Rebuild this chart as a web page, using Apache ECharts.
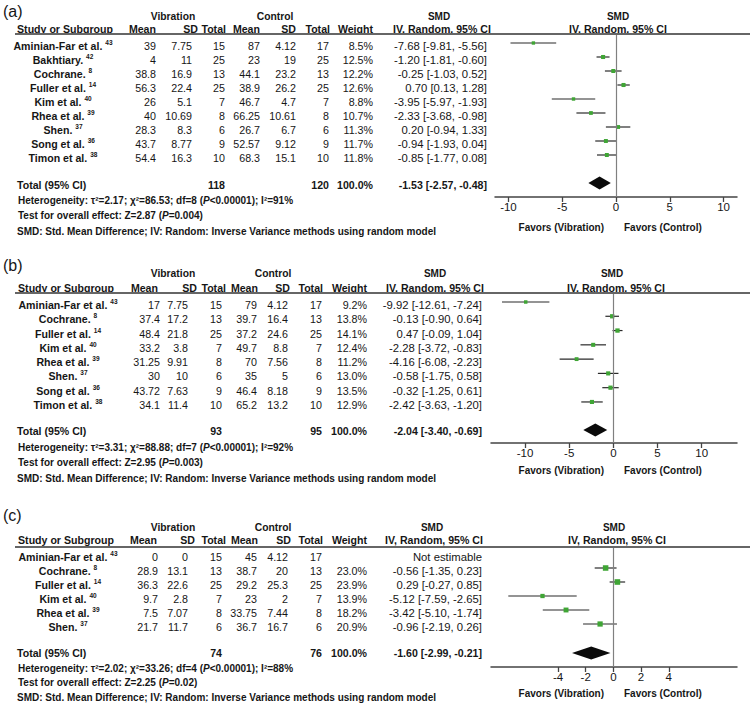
<!DOCTYPE html>
<html><head><meta charset="utf-8">
<script src="https://cdn.jsdelivr.net/npm/echarts@6/dist/echarts.min.js"></script>
<style>html,body{margin:0;padding:0;background:#fff}#chart{width:750px;height:707px}</style>
</head><body><div id="chart"></div>
<script>
// ---------------- DATA ----------------
// Panel (a)
const studiesA = ['Aminian-Far et al.', 'Bakhtiary.', 'Cochrane.', 'Fuller et al.', 'Kim et al.', 'Rhea et al.', 'Shen.', 'Song et al.', 'Timon et al.'];
const refsA = ['43', '42', '8', '14', '40', '39', '37', '36', '38'];
const vibMeanA = ['39', '4', '38.8', '56.3', '26', '40', '28.3', '43.7', '54.4'];
const vibSDA = ['7.75', '11', '16.9', '22.4', '5.1', '10.69', '8.3', '8.77', '16.3'];
const vibNA = [15, 25, 13, 25, 7, 8, 6, 9, 10];
const conMeanA = ['87', '23', '44.1', '38.9', '46.7', '66.25', '26.7', '52.57', '68.3'];
const conSDA = ['4.12', '19', '23.2', '26.2', '4.7', '10.61', '6.7', '9.12', '15.1'];
const conNA = [17, 25, 13, 25, 7, 8, 6, 9, 10];
const weightA = [8.5, 12.5, 12.2, 12.6, 8.8, 10.7, 11.3, 11.7, 11.8];
const smdA = [-7.68, -1.20, -0.25, 0.70, -3.95, -2.33, 0.20, -0.94, -0.85];
const loA = [-9.81, -1.81, -1.03, 0.13, -5.97, -3.68, -0.94, -1.93, -1.77];
const hiA = [-5.56, -0.60, 0.52, 1.28, -1.93, -0.98, 1.33, 0.04, 0.08];
const totalNA = [118, 120];
const totalA = [-1.53, -2.57, -0.48];
const hetA = ['2.17', '86.53', '8', '<0.00001', '91'];
const testA = ['2.87', '=0.004'];
const ticksA = [-10, -5, 0, 5, 10];

// Panel (b)
const studiesB = ['Aminian-Far et al.', 'Cochrane.', 'Fuller et al.', 'Kim et al.', 'Rhea et al.', 'Shen.', 'Song et al.', 'Timon et al.'];
const refsB = ['43', '8', '14', '40', '39', '37', '36', '38'];
const vibMeanB = ['17', '37.4', '48.4', '33.2', '31.25', '30', '43.72', '34.1'];
const vibSDB = ['7.75', '17.2', '21.8', '3.8', '9.91', '10', '7.63', '11.4'];
const vibNB = [15, 13, 25, 7, 8, 6, 9, 10];
const conMeanB = ['79', '39.7', '37.2', '49.7', '70', '35', '46.4', '65.2'];
const conSDB = ['4.12', '16.4', '24.6', '8.8', '7.56', '5', '8.18', '13.2'];
const conNB = [17, 13, 25, 7, 8, 6, 9, 10];
const weightB = [9.2, 13.8, 14.1, 12.4, 11.2, 13.0, 13.5, 12.9];
const smdB = [-9.92, -0.13, 0.47, -2.28, -4.16, -0.58, -0.32, -2.42];
const loB = [-12.61, -0.90, -0.09, -3.72, -6.08, -1.75, -1.25, -3.63];
const hiB = [-7.24, 0.64, 1.04, -0.83, -2.23, 0.58, 0.61, -1.20];
const totalNB = [93, 95];
const totalB = [-2.04, -3.40, -0.69];
const hetB = ['3.31', '88.88', '7', '<0.00001', '92'];
const testB = ['2.95', '=0.003'];
const ticksB = [-10, -5, 0, 5, 10];

// Panel (c)
const studiesC = ['Aminian-Far et al.', 'Cochrane.', 'Fuller et al.', 'Kim et al.', 'Rhea et al.', 'Shen.'];
const refsC = ['43', '8', '14', '40', '39', '37'];
const vibMeanC = ['0', '28.9', '36.3', '9.7', '7.5', '21.7'];
const vibSDC = ['0', '13.1', '22.6', '2.8', '7.07', '11.7'];
const vibNC = [15, 13, 25, 7, 8, 6];
const conMeanC = ['45', '38.7', '29.2', '23', '33.75', '36.7'];
const conSDC = ['4.12', '20', '25.3', '2', '7.44', '16.7'];
const conNC = [17, 13, 25, 7, 8, 6];
const weightC = [null, 23.0, 23.9, 13.9, 18.2, 20.9];
const smdC = [null, -0.56, 0.29, -5.12, -3.42, -0.96];
const loC = [null, -1.35, -0.27, -7.59, -5.10, -2.19];
const hiC = [null, 0.23, 0.85, -2.65, -1.74, 0.26];
const totalNC = [74, 76];
const totalC = [-1.60, -2.99, -0.21];
const hetC = ['2.02', '33.26', '4', '<0.00001', '88'];
const testC = ['2.25', '=0.02'];
const ticksC = [-4, -2, 0, 2, 4];

// ---------------- LAYOUT (pixels) ----------------
const layoutA = { label: 11, hdr1: 16, hdr2: 29, line: 34, y0: 46, step: 14, total: 185, het: 200, test: 215, foot: 231,
  axisY: 197, favors: 227, diamondY: 183, xMin: -11.25, xMax: 11.25, plotL: 495, plotR: 737,
  study: 63, studyHdr: 65, col: [156, 192, 225, 260, 296, 329, 373], hcol: [156, 198, 226, 260, 296, 330, 373], ci: 487,
  vibC: 173, conC: 275, smdC: 439, ivL: 393, psmdC: 618, pivC: 618 };
const layoutB = { label: 265, hdr1: 273, hdr2: 288, line: 293, y0: 305, step: 14.28, total: 431, het: 447, test: 462, foot: 478,
  axisY: 443, favors: 470, diamondY: 430, xMin: -13.85, xMax: 14.0, plotL: 491, plotR: 737,
  study: 68, studyHdr: 66, col: [160, 188, 222, 257, 288, 322, 367], hcol: [158, 197, 226, 258, 290, 323, 367], ci: 482,
  vibC: 173, conC: 273, smdC: 435, ivL: 386, psmdC: 612, pivC: 616 };
const layoutC = { label: 515, hdr1: 527, hdr2: 540, line: 547, y0: 557, step: 14, total: 653, het: 668, test: 682, foot: 697,
  axisY: 667, favors: 693, diamondY: 653, xMin: -8.84, xMax: 8.93, plotL: 491, plotR: 737,
  study: 68, studyHdr: 66, col: [158, 188, 222, 257, 288, 322, 367], hcol: [157, 195, 226, 258, 291, 323, 367], ci: 482,
  vibC: 173, conC: 273, smdC: 432, ivL: 385, psmdC: 614, pivC: 617 };

const panels = [
  { tag: '(a)', studies: studiesA, refs: refsA, vm: vibMeanA, vs: vibSDA, vn: vibNA, cm: conMeanA, cs: conSDA, cn: conNA,
    w: weightA, smd: smdA, lo: loA, hi: hiA, totN: totalNA, tot: totalA, het: hetA, test: testA, ticks: ticksA, L: layoutA },
  { tag: '(b)', studies: studiesB, refs: refsB, vm: vibMeanB, vs: vibSDB, vn: vibNB, cm: conMeanB, cs: conSDB, cn: conNB,
    w: weightB, smd: smdB, lo: loB, hi: hiB, totN: totalNB, tot: totalB, het: hetB, test: testB, ticks: ticksB, L: layoutB },
  { tag: '(c)', studies: studiesC, refs: refsC, vm: vibMeanC, vs: vibSDC, vn: vibNC, cm: conMeanC, cs: conSDC, cn: conNC,
    w: weightC, smd: smdC, lo: loC, hi: hiC, totN: totalNC, tot: totalC, het: hetC, test: testC, ticks: ticksC, L: layoutC }
];

// ---------------- STYLE ----------------
const FONT = '"Liberation Sans", Arial, Helvetica, sans-serif';
const TXT = '#161616';
const GREEN = '#3fa535';
const RICH = {
  b: { fontFamily: FONT, fontSize: 10.6, fontWeight: 'bold', fill: TXT, lineHeight: 14 },
  bi: { fontFamily: FONT, fontSize: 10.6, fontWeight: 'bold', fontStyle: 'italic', fill: TXT, lineHeight: 14 },
  h: { fontFamily: FONT, fontSize: 10.3, fontWeight: 'bold', fill: TXT, lineHeight: 14 },
  f: { fontFamily: FONT, fontSize: 10, fontWeight: 'bold', fill: TXT, lineHeight: 14 },
  r: { fontFamily: FONT, fontSize: 10.7, fill: TXT, lineHeight: 14 },
  ci: { fontFamily: FONT, fontSize: 11.3, fill: TXT, lineHeight: 14 },
  s: { fontFamily: FONT, fontSize: 6.5, fontWeight: 'bold', fill: TXT, lineHeight: 8, verticalAlign: 'top' },
  lab: { fontFamily: FONT, fontSize: 16, fill: TXT, lineHeight: 18 }
};
const fmt = v => v.toFixed(2);

// ---------------- TEXT SPECS ----------------
const specs = [];
function add(x, y, text, align) { specs.push({ kind: 'text', x, y, text, align: align || 'left' }); }
function addLine(x, x2, y) { specs.push({ kind: 'line', x, x2, y }); }

panels.forEach(P => {
  const L = P.L;
  add(3, L.label, '{lab|' + P.tag + '}', 'left');
  add(L.vibC, L.hdr1, '{h|Vibration}', 'center');
  add(L.conC, L.hdr1, '{h|Control}', 'center');
  add(L.smdC, L.hdr1, '{f|SMD}', 'center');
  add(L.psmdC, L.hdr1, '{f|SMD}', 'center');
  add(L.studyHdr, L.hdr2, '{b|Study or Subgroup}', 'center');
  ['Mean', 'SD', 'Total', 'Mean', 'SD', 'Total', 'Weight'].forEach((h, k) => add(L.hcol[k], L.hdr2, '{b|' + h + '}', 'right'));
  add(L.ivL, L.hdr2, '{b|IV, Random, 95% CI}', 'left');
  add(L.pivC, L.hdr2, '{b|IV, Random, 95% CI}', 'center');
  addLine(15, 750, L.line);
  P.studies.forEach((s, i) => {
    const y = L.y0 + i * L.step;
    add(L.study, y, '{b|' + s + ' }{s|' + P.refs[i] + '}', 'center');
    const vals = [P.vm[i], P.vs[i], String(P.vn[i]), P.cm[i], P.cs[i], String(P.cn[i]),
      P.w[i] == null ? '' : P.w[i].toFixed(1) + '%'];
    vals.forEach((v, k) => { if (v !== '') add(L.col[k], y, '{r|' + v + '}', 'right'); });
    const ci = P.smd[i] == null ? 'Not estimable' : fmt(P.smd[i]) + ' [' + fmt(P.lo[i]) + ', ' + fmt(P.hi[i]) + ']';
    add(L.ci, y, '{ci|' + ci + '}', 'right');
  });
  add(17, L.total, '{b|Total (95% CI)}', 'left');
  add(L.col[2], L.total, '{b|' + P.totN[0] + '}', 'right');
  add(L.col[5], L.total, '{b|' + P.totN[1] + '}', 'right');
  add(L.col[6], L.total, '{b|100.0%}', 'right');
  add(L.ci, L.total, '{b|' + fmt(P.tot[0]) + ' [' + fmt(P.tot[1]) + ', ' + fmt(P.tot[2]) + ']}', 'right');
  const H = P.het;
  add(18, L.het, '{f|Heterogeneity: \u03c4\u00b2=' + H[0] + '; \u03c7\u00b2=' + H[1] + '; df=' + H[2] + ' (}{bi|P}{f|' + H[3] + '); I\u00b2=' + H[4] + '%}', 'left');
  add(18, L.test, '{f|Test for overall effect: Z=' + P.test[0] + ' (}{bi|P}{f|' + P.test[1] + ')}', 'left');
  add(17, L.foot, '{f|SMD: Std. Mean Difference; IV: Random: Inverse Variance methods using random model}', 'left');
  add(604, L.favors, '{f|Favors (Vibration)}', 'right');
  add(624, L.favors, '{f|Favors (Control)}', 'left');
});
RICH.bi.fontSize = 10; RICH.bi.fontWeight = 'bold';

// ---------------- OPTION ----------------
const grids = [{ left: 0, top: 0, width: 750, height: 707 }];
const xAxes = [{ type: 'value', gridIndex: 0, min: 0, max: 750, show: false }];
const yAxes = [{ type: 'value', gridIndex: 0, min: 0, max: 707, inverse: true, show: false }];
const series = [{
  type: 'custom', xAxisIndex: 0, yAxisIndex: 0, silent: true, z: 5,
  data: specs.map(s => [s.x, s.y]),
  encode: { x: 0, y: 1 },
  renderItem: (params, api) => {
    const s = specs[params.dataIndex];
    const p = api.coord([s.x, s.y]);
    if (s.kind === 'line') {
      const p2 = api.coord([s.x2, s.y]);
      return { type: 'line', shape: { x1: p[0], y1: p[1], x2: p2[0], y2: p2[1] }, style: { stroke: '#666', lineWidth: 1.8 } };
    }
    return { type: 'text', x: p[0], y: p[1],
      style: { text: s.text, rich: RICH, align: s.align, verticalAlign: 'middle', fontFamily: FONT, fontSize: 10.6, fill: TXT } };
  }
}];

panels.forEach((P, k) => {
  const L = P.L, gi = k + 1;
  const top = L.line, bottom = L.axisY;
  const yBase = L.y0 - 3;
  grids.push({ left: L.plotL, top: top, width: L.plotR - L.plotL, height: bottom - top });
  xAxes.push({
    type: 'value', gridIndex: gi, min: L.xMin, max: L.xMax,
    axisLine: { show: true, onZero: false, lineStyle: { color: '#444', width: 1.5 } },
    axisTick: { show: true, length: 5, customValues: P.ticks, lineStyle: { color: '#444', width: 1.3 } },
    axisLabel: { customValues: P.ticks, margin: 4, fontSize: 11.5, color: TXT, fontFamily: FONT },
    splitLine: { show: false }
  });
  yAxes.push({ type: 'value', gridIndex: gi, inverse: true, show: false,
    min: (top - yBase) / L.step, max: (bottom - yBase) / L.step });
  const rows = [];
  P.smd.forEach((v, i) => { if (v != null) rows.push([i, v, P.lo[i], P.hi[i], P.w[i]]); });
  series.push({
    type: 'custom', xAxisIndex: gi, yAxisIndex: gi, z: 3,
    data: rows, encode: { x: [1, 2, 3], y: 0 },
    renderItem: (params, api) => {
      const i = api.value(0);
      const a = api.coord([api.value(2), i]);
      const b = api.coord([api.value(3), i]);
      const c = api.coord([api.value(1), i]);
      const sz = 1.15 * Math.sqrt(api.value(4));
      return { type: 'group', children: [
        { type: 'line', shape: { x1: a[0], y1: a[1], x2: b[0], y2: b[1] }, style: { stroke: '#2a2a2a', lineWidth: 1.2 } },
        { type: 'rect', shape: { x: c[0] - sz / 2, y: c[1] - sz / 2, width: sz, height: sz }, style: { fill: GREEN } }
      ] };
    },
    markLine: { silent: true, symbol: ['none', 'none'], label: { show: false },
      lineStyle: { color: '#808080', width: 1.2, type: 'solid' }, data: [{ xAxis: 0 }] }
  });
  const dRow = (L.diamondY - yBase) / L.step;
  series.push({
    type: 'custom', xAxisIndex: gi, yAxisIndex: gi, z: 4,
    data: [[dRow, P.tot[0], P.tot[1], P.tot[2]]], encode: { x: [1, 2, 3], y: 0 },
    renderItem: (params, api) => {
      const r = api.value(0);
      const l = api.coord([api.value(2), r]);
      const m = api.coord([api.value(1), r]);
      const h = api.coord([api.value(3), r]);
      const hh = 6.5;
      return { type: 'polygon', shape: { points: [[l[0], l[1]], [m[0], m[1] - hh], [h[0], h[1]], [m[0], m[1] + hh]] },
        style: { fill: '#0a0a0a' } };
    }
  });
});

const chart = echarts.init(document.getElementById('chart'), null, { renderer: 'svg', width: 750, height: 707 });
chart.setOption({ backgroundColor: '#fff', animation: false, grid: grids, xAxis: xAxes, yAxis: yAxes, series: series });
</script></body></html>
